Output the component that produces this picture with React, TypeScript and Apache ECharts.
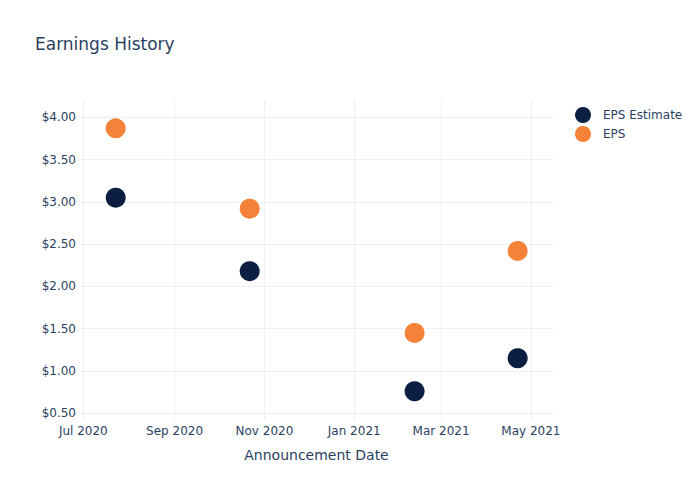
import React, { useEffect, useRef } from "react";
import * as echarts from "echarts";

const announcementDates: [number, number, number][] = [
  [2020, 7, 23],
  [2020, 10, 22],
  [2021, 2, 11],
  [2021, 4, 22],
];
const epsEstimate = [3.05, 2.18, 0.76, 1.15];
const eps = [3.87, 2.92, 1.45, 2.42];
const xTickDates: [number, number, number][] = [
  [2020, 7, 1],
  [2020, 9, 1],
  [2020, 11, 1],
  [2021, 1, 1],
  [2021, 3, 1],
  [2021, 5, 1],
];
const yTicks = [0.5, 1.0, 1.5, 2.0, 2.5, 3.0, 3.5, 4.0];
const monthNames = ["Jan", "Feb", "Mar", "Apr", "May", "Jun", "Jul", "Aug", "Sep", "Oct", "Nov", "Dec"];

const ts = (d: [number, number, number]) => new Date(d[0], d[1] - 1, d[2]).getTime();

export default function App() {
  const ref = useRef<HTMLDivElement>(null);
  useEffect(() => {
    if (!ref.current) return;
    const chart = echarts.init(ref.current, undefined, { renderer: "svg" });
    const font = "DejaVu Sans";
    const textColor = "#2a3f5f";
    const gridColor = "#ebf0f8";
    chart.setOption({
      animation: false,
      backgroundColor: "#fff",
      textStyle: { fontFamily: font },
      title: {
        text: "Earnings History",
        left: 35,
        top: 35,
        padding: 0,
        textStyle: { fontFamily: font, fontSize: 17, fontWeight: "normal", color: textColor },
      },
      legend: {
        orient: "vertical",
        left: 575,
        top: 107,
        padding: 0,
        itemWidth: 16,
        itemHeight: 16,
        itemGap: 3,
        icon: "circle",
        textStyle: { fontFamily: font, fontSize: 12, color: textColor, padding: [0, 0, 0, 7] },
        data: ["EPS Estimate", "EPS"],
      },
      grid: { left: 80, right: 147, top: 100, bottom: 80, containLabel: false },
      xAxis: {
        type: "value",
        min: new Date(2020, 5, 28, 18).getTime(),
        max: new Date(2021, 4, 16).getTime(),
        name: "Announcement Date",
        nameLocation: "middle",
        nameGap: 28,
        nameTextStyle: { fontFamily: font, fontSize: 14, color: textColor },
        axisLine: { show: false },
        axisTick: { show: false, customValues: xTickDates.map(ts) },
        axisLabel: {
          customValues: xTickDates.map(ts),
          margin: 5,
          fontFamily: font,
          fontSize: 12,
          color: textColor,
          hideOverlap: false,
          formatter: (v: number) => {
            const d = new Date(v);
            return monthNames[d.getMonth()] + " " + d.getFullYear();
          },
        },
        splitLine: { show: true, lineStyle: { color: gridColor, width: 1 } },
      },
      yAxis: {
        type: "value",
        min: 0.42,
        max: 4.205,
        axisLine: { show: false },
        axisTick: { show: false, customValues: yTicks },
        axisLabel: {
          customValues: yTicks,
          margin: 4,
          fontFamily: font,
          fontSize: 12,
          color: textColor,
          formatter: (v: number) => "$" + v.toFixed(2),
        },
        splitLine: { show: true, lineStyle: { color: gridColor, width: 1 } },
      },
      series: [
        {
          name: "EPS Estimate",
          type: "scatter",
          symbol: "circle",
          symbolSize: 20,
          itemStyle: { color: "#0c1f42", opacity: 1 },
          data: announcementDates.map((d, i) => [ts(d), epsEstimate[i]]),
        },
        {
          name: "EPS",
          type: "scatter",
          symbol: "circle",
          symbolSize: 20,
          itemStyle: { color: "#f6823a", opacity: 1 },
          data: announcementDates.map((d, i) => [ts(d), eps[i]]),
        },
      ],
    });
    return () => chart.dispose();
  }, []);
  return <div ref={ref} style={{ width: 700, height: 500, position: "absolute", left: 0, top: 0 }} />;
}
